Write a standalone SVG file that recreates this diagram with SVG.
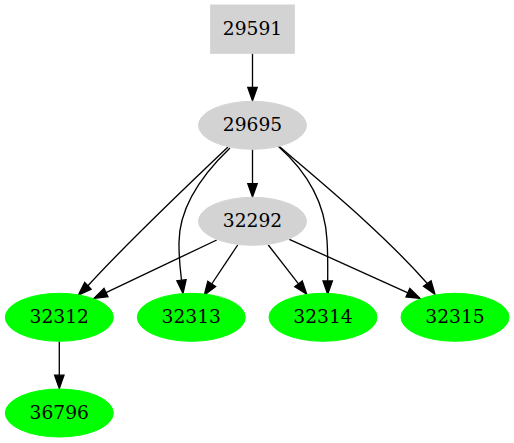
<svg xmlns="http://www.w3.org/2000/svg" width="514" height="443" viewBox="0 0 514 443">
<style>
.lbl{font-family:"DejaVu Serif","Liberation Serif",serif;font-size:18.67px;text-anchor:middle;fill:#000}
.gray{fill:#d3d3d3;stroke:#d3d3d3}
.green{fill:#00ff00;stroke:#00ff00}
.edge path{fill:none;stroke:#000;stroke-width:1.33}
.edge polygon{fill:#000;stroke:#000;stroke-width:1.33}
</style>
<rect width="514" height="443" fill="#fff"/>
<g id="edges" class="edge">
<path d="M252.5,53.5 L252.5,87.4"/><polygon points="247.8,87.4 257.2,87.4 252.5,100.7"/>
<path d="M252.5,149.5 L252.5,183.6"/><polygon points="247.8,183.6 257.2,183.6 252.5,196.9"/>
<path d="M228,147 C190,183 125,245 87.9,285.8"/><polygon points="91.1,289.2 84.7,282.4 78.3,295"/>
<path d="M230,148 C205,172 178,205 179,245 C179,257 180,268 181.5,280.2"/><polygon points="186.1,279.7 176.9,280.7 183,293.5"/>
<path d="M216.7,240 L106,292.6"/><polygon points="108,296.8 104,288.4 94,298.3"/>
<path d="M237.7,245 L211.7,284"/><polygon points="215.6,286.6 207.8,281.4 204.3,295"/>
<path d="M278,146 C305,170 325,200 327,240 C328,255 327.7,268 327.7,281"/><polygon points="323,281 332.4,281 327.7,294.3"/>
<path d="M280,147 C318,180 380,230 427.3,283.5"/><polygon points="431.1,280.8 423.5,286.2 435,294.3"/>
<path d="M268.3,245 L298.5,283.8"/><polygon points="302.2,280.9 294.8,286.7 306.7,294.3"/>
<path d="M289.3,239.3 L407.9,292.8"/><polygon points="409.8,288.5 406,297 420,298.3"/>
<path d="M59.3,341.5 L59.3,375.2"/><polygon points="54.6,375.2 64,375.2 59.3,388.5"/>
</g>
<g id="n29591"><rect class="gray" x="210.7" y="5" width="83.6" height="48.3"/><text class="lbl" x="252.5" y="34.9">29591</text></g>
<g id="n29695"><ellipse class="gray" cx="252.5" cy="125.3" rx="54" ry="24"/><text class="lbl" x="252.5" y="130.9">29695</text></g>
<g id="n32292"><ellipse class="gray" cx="252.5" cy="221.3" rx="54" ry="24"/><text class="lbl" x="252.5" y="226.9">32292</text></g>
<g id="n32312"><ellipse class="green" cx="59.3" cy="317.3" rx="54" ry="24"/><text class="lbl" x="59.3" y="322.9">32312</text></g>
<g id="n32313"><ellipse class="green" cx="191.3" cy="317.3" rx="54" ry="24"/><text class="lbl" x="191.3" y="322.9">32313</text></g>
<g id="n32314"><ellipse class="green" cx="323" cy="317.3" rx="54" ry="24"/><text class="lbl" x="323" y="322.9">32314</text></g>
<g id="n32315"><ellipse class="green" cx="455" cy="317.3" rx="54" ry="24"/><text class="lbl" x="455" y="322.9">32315</text></g>
<g id="n36796"><ellipse class="green" cx="59.3" cy="413" rx="54" ry="24"/><text class="lbl" x="59.3" y="418.6">36796</text></g>
</svg>
